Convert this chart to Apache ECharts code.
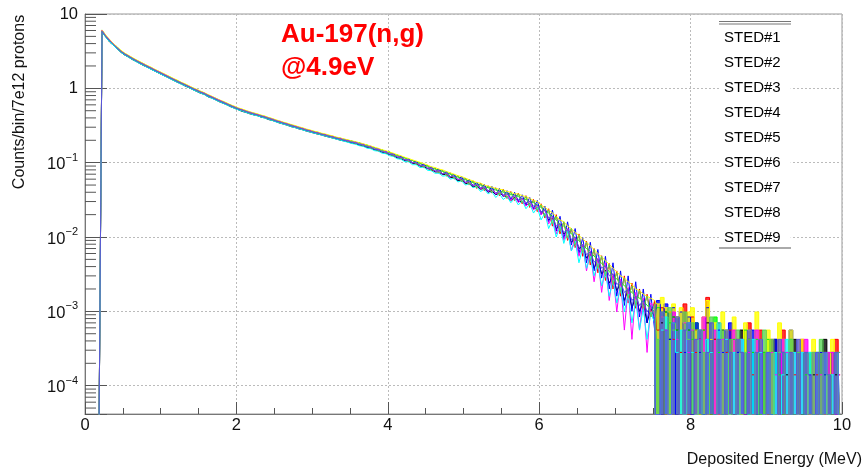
<!DOCTYPE html>
<html><head><meta charset="utf-8">
<script src="https://cdn.jsdelivr.net/npm/echarts@6/dist/echarts.min.js"></script>
<style>html,body{margin:0;padding:0;background:#fff}#c{width:865px;height:476px}</style>
</head><body><div id="c"></div>
<script>
// Deposited energy histogram, 200 bins of 0.05 MeV from 0 to 10 MeV
const binCount = 200;
const binWidthMeV = 0.05;
const binCenters = Array.from({length: binCount}, (_, i) => +((i + 0.5) * binWidthMeV).toFixed(3));
const tailStartBin = 150; // 7.5 MeV: sparse-count region drawn as a filled histogram

const seriesNames = ['STED#1','STED#2','STED#3','STED#4','STED#5','STED#6','STED#7','STED#8','STED#9'];
const xTicks = [0, 2, 4, 6, 8, 10];

const sted1 = [
0,0,0,0,5.7,4.9,4.2,3.8,3.4,3.05,
2.8,2.63,2.44,2.3,2.15,2.02,1.92,1.8,1.7,1.6,
1.51,1.43,1.35,1.27,1.2,1.14,1.07,1.02,0.96,0.91,
0.86,0.83,0.77,0.74,0.7,0.66,0.63,0.6,0.565,0.54,
0.515,0.49,0.475,0.455,0.44,0.43,0.41,0.4,0.38,0.37,
0.355,0.34,0.33,0.318,0.305,0.297,0.285,0.277,0.266,0.258,
0.25,0.242,0.236,0.227,0.221,0.214,0.208,0.2,0.196,0.19,
0.183,0.18,0.172,0.168,0.16,0.157,0.149,0.145,0.138,0.134,
0.128,0.124,0.116,0.114,0.106,0.105,0.098,0.097,0.09,0.089,
0.083,0.081,0.075,0.075,0.069,0.07,0.063,0.063,0.057,0.059,
0.052,0.054,0.047,0.049,0.044,0.045,0.04,0.042,0.037,0.039,
0.036,0.035,0.031,0.034,0.03,0.03,0.027,0.028,0.024,0.025,
0.022,0.02,0.017,0.018,0.013,0.014,0.011,0.012,0.0085,0.0095,
0.007,0.0075,0.0052,0.006,0.0038,0.005,0.0032,0.0036,0.0024,0.003,
0.0019,0.0024,0.0014,0.002,0.0011,0.0016,0.001,0.0013,7e-4,0.0011,
8.4e-4,0,7e-4,9.8e-4,4.2e-4,8.4e-4,5.6e-4,2.8e-4,7e-4,5.6e-4,
0,5.6e-4,4.2e-4,0,7e-4,2.8e-4,4.2e-4,0,5.6e-4,2.8e-4,
4.2e-4,0,2.8e-4,5.6e-4,0,4.2e-4,2.8e-4,0,4.2e-4,2.8e-4,
0,2.8e-4,4.2e-4,0,2.8e-4,1.4e-4,0,4.2e-4,2.8e-4,0,
2.8e-4,0,1.4e-4,2.8e-4,0,4.2e-4,0,2.8e-4,1.4e-4,0];

const sted2 = [
0,0,0,0,6.0,5.1,4.4,3.95,3.5,3.2,
2.92,2.7,2.55,2.35,2.24,2.08,1.99,1.85,1.77,1.64,
1.57,1.46,1.4,1.3,1.25,1.16,1.12,1.04,1.0,0.93,
0.9,0.84,0.81,0.75,0.73,0.67,0.66,0.61,0.59,0.55,
0.535,0.505,0.495,0.465,0.46,0.435,0.43,0.405,0.4,0.375,
0.37,0.348,0.344,0.324,0.32,0.301,0.298,0.281,0.279,0.262,
0.262,0.246,0.246,0.231,0.232,0.217,0.218,0.204,0.206,0.192,
0.195,0.18,0.184,0.168,0.172,0.156,0.16,0.144,0.148,0.133,
0.14,0.122,0.128,0.112,0.118,0.103,0.108,0.094,0.1,0.086,
0.092,0.078,0.085,0.072,0.079,0.066,0.073,0.06,0.067,0.055,
0.062,0.05,0.057,0.045,0.053,0.042,0.049,0.039,0.046,0.036,
0.044,0.033,0.041,0.031,0.039,0.028,0.036,0.025,0.032,0.022,
0.028,0.018,0.024,0.014,0.02,0.011,0.016,0.009,0.013,0.0072,
0.011,0.0055,0.0088,0.0042,0.007,0.0033,0.0056,0.0026,0.0044,0.002,
0.0035,0.0016,0.003,0.0013,0.0024,0.0011,0.002,9.8e-4,0.0017,8.4e-4,
1.4e-3,5.6e-4,1.12e-3,0,9.8e-4,4.2e-4,8.4e-4,2.8e-4,1.26e-3,0,
8.4e-4,2.8e-4,0,5.6e-4,1.54e-3,0,4.2e-4,7e-4,0,2.8e-4,
5.6e-4,0,4.2e-4,2.8e-4,0,7e-4,1.4e-4,0,5.6e-4,2.8e-4,
0,4.2e-4,2.8e-4,0,5.6e-4,0,2.8e-4,1.4e-4,0,4.2e-4,
0,2.8e-4,0,1.4e-4,2.8e-4,0,2.8e-4,0,4.2e-4,1.4e-4];

const sted3 = [
0,0,0,0,6.1,5.1,4.5,4.0,3.6,3.2,
2.95,2.76,2.57,2.41,2.26,2.14,2.0,1.9,1.78,1.69,
1.59,1.5,1.42,1.33,1.27,1.19,1.13,1.07,1.01,0.96,
0.91,0.87,0.815,0.775,0.735,0.695,0.66,0.63,0.595,0.565,
0.54,0.52,0.5,0.48,0.465,0.45,0.432,0.42,0.402,0.39,
0.372,0.36,0.346,0.335,0.322,0.312,0.3,0.291,0.28,0.272,
0.263,0.256,0.246,0.24,0.232,0.226,0.218,0.213,0.206,0.2,
0.196,0.188,0.185,0.176,0.173,0.164,0.16,0.152,0.149,0.14,
0.138,0.13,0.126,0.12,0.116,0.11,0.107,0.101,0.099,0.093,
0.09,0.086,0.082,0.08,0.076,0.074,0.07,0.068,0.064,0.062,
0.059,0.057,0.054,0.052,0.05,0.048,0.046,0.045,0.043,0.042,
0.04,0.039,0.037,0.037,0.035,0.033,0.032,0.03,0.029,0.027,
0.025,0.023,0.021,0.019,0.017,0.015,0.014,0.0125,0.011,0.0098,
0.009,0.0078,0.007,0.0064,0.0055,0.005,0.0044,0.004,0.0034,0.0031,
0.0027,0.0025,0.0022,0.002,0.0018,0.0016,0.0015,0.0014,0.0012,0.00112,
9.8e-4,1.12e-3,8.4e-4,9.8e-4,7e-4,8.4e-4,5.6e-4,0,7e-4,5.6e-4,
4.2e-4,7e-4,0,5.6e-4,4.2e-4,0,8.4e-4,2.8e-4,0,5.6e-4,
2.8e-4,4.2e-4,0,2.8e-4,5.6e-4,0,2.8e-4,4.2e-4,0,2.8e-4,
4.2e-4,0,2.8e-4,1.4e-4,0,2.8e-4,4.2e-4,0,2.8e-4,0,
1.4e-4,2.8e-4,0,2.8e-4,0,1.4e-4,2.8e-4,0,2.8e-4,0];

const sted4 = [
0,0,0,0,5.8,5.0,4.35,3.9,3.45,3.15,
2.88,2.71,2.5,2.37,2.2,2.1,1.96,1.87,1.74,1.66,
1.55,1.48,1.38,1.32,1.23,1.18,1.1,1.06,0.98,0.95,
0.88,0.86,0.79,0.77,0.71,0.69,0.64,0.62,0.58,0.56,
0.525,0.515,0.485,0.475,0.45,0.445,0.42,0.415,0.39,0.385,
0.36,0.356,0.336,0.332,0.312,0.309,0.291,0.289,0.271,0.27,
0.254,0.254,0.238,0.239,0.224,0.225,0.21,0.212,0.198,0.2,
0.186,0.19,0.175,0.178,0.163,0.166,0.151,0.154,0.139,0.143,
0.129,0.132,0.118,0.122,0.108,0.113,0.099,0.104,0.091,0.096,
0.083,0.088,0.076,0.082,0.07,0.076,0.064,0.07,0.058,0.065,
0.053,0.06,0.048,0.055,0.044,0.051,0.04,0.048,0.037,0.045,
0.035,0.042,0.032,0.04,0.03,0.037,0.027,0.034,0.024,0.031,
0.02,0.026,0.016,0.023,0.012,0.019,0.0095,0.016,0.0078,0.013,
0.006,0.0098,0.0045,0.0085,0.0035,0.0068,0.0028,0.0055,0.002,0.0045,
0.0016,0.0035,0.0012,0.003,0.001,0.0025,8.4e-4,0.002,7e-4,0.0017,
5.6e-4,1.4e-3,0,1.26e-3,4.2e-4,1.12e-3,0,9.8e-4,2.8e-4,8.4e-4,
0,7e-4,2.8e-4,0,1.12e-3,4.2e-4,0,5.6e-4,2.8e-4,0,
7e-4,0,2.8e-4,4.2e-4,0,2.8e-4,5.6e-4,0,2.8e-4,0,
2.8e-4,0,4.2e-4,0,2.8e-4,0,5.6e-4,2.8e-4,0,2.8e-4,
0,1.4e-4,2.8e-4,0,2.8e-4,1.4e-4,0,2.8e-4,0,2.8e-4];

const sted5 = [
0,0,0,0,6.1,5.2,4.55,4.0,3.6,3.25,
2.98,2.78,2.6,2.43,2.29,2.15,2.03,1.92,1.8,1.7,
1.61,1.52,1.43,1.35,1.28,1.2,1.15,1.08,1.02,0.97,
0.92,0.875,0.825,0.785,0.74,0.7,0.67,0.635,0.6,0.575,
0.545,0.527,0.505,0.485,0.468,0.455,0.437,0.424,0.406,0.393,
0.376,0.364,0.35,0.339,0.325,0.316,0.303,0.295,0.283,0.275,
0.265,0.259,0.249,0.243,0.235,0.229,0.22,0.215,0.208,0.203,
0.196,0.192,0.185,0.18,0.173,0.168,0.161,0.156,0.149,0.145,
0.139,0.134,0.128,0.124,0.118,0.114,0.109,0.105,0.101,0.097,
0.093,0.088,0.086,0.082,0.08,0.076,0.073,0.07,0.067,0.065,
0.062,0.059,0.057,0.054,0.053,0.05,0.048,0.047,0.045,0.044,
0.043,0.041,0.04,0.038,0.038,0.036,0.035,0.033,0.031,0.03,
0.027,0.025,0.023,0.021,0.019,0.017,0.016,0.014,0.013,0.0115,
0.0105,0.0094,0.0085,0.0076,0.0068,0.006,0.0054,0.0048,0.0043,0.0038,
0.0034,0.003,0.0028,0.0025,0.0023,0.002,0.0019,0.0017,0.0016,0.0015,
1.4e-3,1.26e-3,1.54e-3,1.12e-3,9.8e-4,1.26e-3,8.4e-4,1.12e-3,7e-4,9.8e-4,
1.12e-3,5.6e-4,0,8.4e-4,1.4e-3,4.2e-4,7e-4,0,9.8e-4,5.6e-4,
0,8.4e-4,4.2e-4,0,7e-4,5.6e-4,0,9.8e-4,4.2e-4,0,
5.6e-4,2.8e-4,0,7e-4,4.2e-4,0,5.6e-4,2.8e-4,0,4.2e-4,
2.8e-4,0,4.2e-4,2.8e-4,0,2.8e-4,0,4.2e-4,2.8e-4,0];

const sted6 = [
0,0,0,0,6.0,5.05,4.45,3.92,3.52,3.17,
2.91,2.73,2.54,2.38,2.24,2.11,1.99,1.88,1.77,1.67,
1.58,1.49,1.4,1.32,1.25,1.18,1.12,1.06,1.0,0.95,
0.9,0.86,0.81,0.77,0.73,0.69,0.66,0.62,0.59,0.56,
0.535,0.515,0.495,0.475,0.46,0.444,0.43,0.414,0.4,0.384,
0.369,0.356,0.344,0.331,0.319,0.308,0.298,0.288,0.278,0.269,
0.26,0.252,0.244,0.237,0.23,0.223,0.216,0.21,0.204,0.198,
0.192,0.187,0.18,0.175,0.168,0.163,0.156,0.151,0.144,0.14,
0.134,0.128,0.121,0.118,0.11,0.109,0.1,0.1,0.092,0.092,
0.085,0.084,0.077,0.078,0.071,0.072,0.065,0.066,0.059,0.061,
0.054,0.056,0.049,0.051,0.045,0.047,0.041,0.044,0.038,0.041,
0.036,0.038,0.031,0.036,0.029,0.033,0.026,0.03,0.023,0.027,
0.02,0.023,0.015,0.019,0.011,0.015,0.009,0.013,0.0065,0.01,
0.0055,0.008,0.0035,0.0065,0.0025,0.0052,0.0018,0.0045,0.0014,0.0032,
9.8e-4,0.0027,5.6e-4,0.0021,4.2e-4,0.0018,5.6e-4,0.0015,2.8e-4,0.0013,
1.12e-3,0,8.4e-4,5.6e-4,0,9.8e-4,4.2e-4,0,7e-4,2.8e-4,
5.6e-4,0,4.2e-4,8.4e-4,0,2.8e-4,5.6e-4,0,4.2e-4,0,
2.8e-4,5.6e-4,0,4.2e-4,0,2.8e-4,0,5.6e-4,2.8e-4,0,
0,2.8e-4,1.4e-4,0,4.2e-4,2.8e-4,0,2.8e-4,0,2.8e-4,
4.2e-4,0,2.8e-4,0,1.4e-4,0,2.8e-4,2.8e-4,0,1.4e-4];

const sted7 = [
0,0,0,0,5.7,4.85,4.25,3.78,3.4,3.05,
2.82,2.62,2.45,2.29,2.15,2.03,1.91,1.8,1.7,1.6,
1.51,1.43,1.35,1.27,1.2,1.13,1.08,1.02,0.96,0.91,
0.865,0.825,0.775,0.735,0.7,0.66,0.63,0.597,0.567,0.538,
0.514,0.495,0.475,0.456,0.441,0.427,0.412,0.398,0.383,0.369,
0.354,0.341,0.33,0.318,0.306,0.296,0.286,0.276,0.267,0.258,
0.25,0.243,0.235,0.228,0.221,0.214,0.206,0.201,0.194,0.188,
0.181,0.177,0.169,0.166,0.157,0.154,0.145,0.143,0.134,0.132,
0.124,0.121,0.113,0.111,0.103,0.103,0.094,0.094,0.086,0.087,
0.079,0.078,0.072,0.072,0.066,0.067,0.06,0.062,0.055,0.057,
0.05,0.052,0.046,0.048,0.041,0.044,0.038,0.041,0.034,0.038,
0.032,0.035,0.029,0.033,0.027,0.031,0.024,0.028,0.021,0.025,
0.017,0.021,0.013,0.017,0.01,0.014,0.0082,0.012,0.0065,0.0088,
0.0045,0.0072,0.0038,0.0055,0.003,0.0044,0.0022,0.0034,0.0016,0.0026,
0.0013,0.0021,9.8e-4,0.0017,7e-4,0.0014,5.6e-4,0.0011,4.2e-4,9.8e-4,
7e-4,0,5.6e-4,8.4e-4,0,7e-4,2.8e-4,5.6e-4,0,7e-4,
2.8e-4,0,5.6e-4,0,4.2e-4,2.8e-4,0,7e-4,0,4.2e-4,
0,2.8e-4,0,4.2e-4,2.8e-4,0,4.2e-4,0,2.8e-4,0,
2.8e-4,0,2.8e-4,0,1.4e-4,4.2e-4,0,2.8e-4,0,2.8e-4,
0,2.8e-4,0,2.8e-4,0,2.8e-4,0,1.4e-4,2.8e-4,0];

const sted8 = [
0,0,0,0,5.9,4.95,4.4,3.88,3.5,3.13,
2.9,2.69,2.53,2.35,2.23,2.08,1.98,1.85,1.76,1.64,
1.57,1.46,1.4,1.3,1.25,1.16,1.12,1.04,1.0,0.935,
0.895,0.845,0.805,0.755,0.725,0.675,0.655,0.61,0.59,0.55,
0.535,0.505,0.493,0.466,0.458,0.436,0.428,0.406,0.398,0.376,
0.368,0.348,0.343,0.324,0.319,0.302,0.297,0.282,0.277,0.263,
0.26,0.247,0.244,0.232,0.23,0.218,0.216,0.205,0.204,0.193,
0.193,0.182,0.182,0.17,0.17,0.158,0.158,0.146,0.146,0.135,
0.137,0.123,0.126,0.113,0.116,0.104,0.107,0.095,0.099,0.087,
0.091,0.079,0.084,0.073,0.078,0.067,0.072,0.062,0.066,0.056,
0.061,0.051,0.056,0.046,0.052,0.043,0.048,0.04,0.045,0.037,
0.043,0.034,0.04,0.032,0.038,0.029,0.035,0.026,0.031,0.023,
0.027,0.019,0.023,0.015,0.019,0.012,0.016,0.0098,0.013,0.0078,
0.0105,0.0062,0.0085,0.0048,0.0068,0.0038,0.0055,0.003,0.0043,0.0023,
0.0033,0.0018,0.0028,0.0015,0.0022,0.0012,0.0019,0.0011,0.0016,8.4e-4,
1.26e-3,4.2e-4,9.8e-4,0,1.12e-3,5.6e-4,8.4e-4,0,9.8e-4,4.2e-4,
7e-4,0,5.6e-4,2.8e-4,0,8.4e-4,0,4.2e-4,5.6e-4,0,
4.2e-4,0,5.6e-4,0,2.8e-4,4.2e-4,0,2.8e-4,0,5.6e-4,
0,4.2e-4,0,2.8e-4,2.8e-4,0,4.2e-4,0,2.8e-4,0,
2.8e-4,0,2.8e-4,0,4.2e-4,0,1.4e-4,0,2.8e-4,2.8e-4];

const sted9 = [
0,0,0,0,5.85,5.0,4.38,3.9,3.48,3.14,
2.89,2.7,2.51,2.36,2.21,2.09,1.96,1.86,1.74,1.65,
1.55,1.47,1.38,1.31,1.23,1.17,1.1,1.05,0.985,0.94,
0.885,0.85,0.795,0.76,0.715,0.68,0.645,0.615,0.58,0.555,
0.527,0.51,0.487,0.47,0.452,0.44,0.422,0.41,0.392,0.38,
0.362,0.352,0.337,0.328,0.313,0.305,0.292,0.285,0.272,0.266,
0.255,0.25,0.239,0.235,0.225,0.221,0.211,0.208,0.199,0.196,
0.187,0.185,0.176,0.173,0.164,0.161,0.152,0.149,0.14,0.138,
0.13,0.128,0.119,0.118,0.109,0.109,0.1,0.1,0.092,0.092,
0.084,0.084,0.077,0.078,0.071,0.072,0.065,0.066,0.06,0.061,
0.055,0.056,0.05,0.051,0.046,0.047,0.042,0.044,0.039,0.041,
0.037,0.038,0.034,0.036,0.032,0.033,0.029,0.03,0.026,0.027,
0.022,0.023,0.018,0.019,0.014,0.015,0.0115,0.0125,0.0092,0.01,
0.0072,0.0079,0.0058,0.0063,0.0046,0.005,0.0038,0.0041,0.003,0.0032,
0.0023,0.0025,0.0018,0.002,0.0014,0.0016,0.0012,0.0014,9.8e-4,0.0012,
8.4e-4,0,9.8e-4,5.6e-4,0,7e-4,8.4e-4,0,5.6e-4,7e-4,
0,4.2e-4,5.6e-4,0,2.8e-4,7e-4,0,4.2e-4,0,5.6e-4,
2.8e-4,0,4.2e-4,2.8e-4,0,5.6e-4,0,2.8e-4,4.2e-4,0,
2.8e-4,0,0,4.2e-4,2.8e-4,0,2.8e-4,0,4.2e-4,0,
2.8e-4,1.4e-4,0,2.8e-4,0,2.8e-4,1.4e-4,0,2.8e-4,0];

const allSeries = [sted1, sted2, sted3, sted4, sted5, sted6, sted7, sted8, sted9];
const seriesColors = ['#000000','#ff0000','#00ff00','#0000ff','#ffff00','#ff00ff','#00ffff','#59d454','#5954d9'];

const Y_MIN = 4.16e-5, Y_MAX = 10;
const EMPTY_BIN = 1e-6; // empty bins drop below the frame, as in ROOT log plots
const FONT = '"Liberation Sans", Arial, Helvetica, sans-serif';

// minor log ticks 2..9 x 10^n
const minorTickValues = [];
for (let n = -5; n <= 1; n++) for (let k = 2; k <= 9; k++) {
  const v = k * Math.pow(10, n);
  if (v > Y_MIN && v < Y_MAX) minorTickValues.push(v);
}

const chart = echarts.init(document.getElementById('c'), null, {renderer: 'canvas'});

const toPoints = (arr, from, to) => arr.slice(from, to).map((v, j) => [binCenters[from + j], v > 0 ? v : EMPTY_BIN]);

const mainSeries = allSeries.map((arr, k) => ({
  name: seriesNames[k], type: 'line', symbol: 'none', showSymbol: false,
  data: toPoints(arr, 0, tailStartBin + 1),
  lineStyle: {width: 1, color: seriesColors[k]}, itemStyle: {color: seriesColors[k]},
  clip: true, silent: true, animation: false, z: 2
}));
const tailSeries = allSeries.map((arr, k) => ({
  name: seriesNames[k], type: 'line', step: 'middle', symbol: 'none', showSymbol: false,
  data: toPoints(arr, tailStartBin, binCount),
  lineStyle: {width: 1, color: seriesColors[k]}, itemStyle: {color: seriesColors[k]},
  areaStyle: {color: seriesColors[k], opacity: 0.8, origin: 'start'},
  clip: true, silent: true, animation: false, z: 2
}));

const minorTickSeries = {
  type: 'custom', silent: true, animation: false, z: 5, clip: false,
  data: minorTickValues.map(v => [0, v]),
  renderItem: (params, api) => {
    const p = api.coord([0, api.value(1)]);
    return {type: 'line', shape: {x1: p[0], y1: p[1], x2: p[0] + 11, y2: p[1]},
            style: {stroke: '#555', lineWidth: 1}};
  }
};

function yLabel(v) {
  const l = Math.log10(v), e = Math.round(l);
  if (Math.abs(l - e) > 1e-6) return '';
  if (e === 0) return '1';
  if (e === 1) return '10';
  return '{b|10}{s|\u2212' + (-e) + '}';
}

chart.setOption({
  animation: false,
  backgroundColor: '#fff',
  grid: {left: 85, right: 23, top: 14, bottom: 62, show: true, borderColor: '#999', borderWidth: 1},
  xAxis: {
    type: 'value', min: xTicks[0], max: xTicks[xTicks.length - 1], interval: 2,
    axisLine: {onZero: false, lineStyle: {color: '#777', width: 1}},
    axisTick: {inside: true, length: 12, lineStyle: {color: '#555'}},
    minorTick: {show: true, splitNumber: 4, length: 6, lineStyle: {color: '#555'}},
    axisLabel: {fontFamily: FONT, fontSize: 16.5, color: '#111', margin: 3},
    splitLine: {show: true, lineStyle: {color: '#bbb', type: [2, 2], width: 1}}
  },
  yAxis: {
    type: 'log', logBase: 10, min: Y_MIN, max: Y_MAX,
    axisLine: {show: true, lineStyle: {color: '#777', width: 1}},
    axisTick: {inside: true, length: 22, lineStyle: {color: '#555'}},
    axisLabel: {fontFamily: FONT, fontSize: 16.5, color: '#111', margin: 7, formatter: yLabel,
      rich: {
        b: {fontFamily: FONT, fontSize: 16.5, color: '#111', padding: [4, 0, 0, 0], verticalAlign: 'bottom'},
        s: {fontFamily: FONT, fontSize: 11, color: '#111', verticalAlign: 'top'}
      }},
    splitLine: {show: true, lineStyle: {color: '#bbb', type: [2, 2], width: 1}}
  },
  legend: {
    data: seriesNames, orient: 'vertical', left: 719, top: 22,
    itemWidth: 0, itemHeight: 0, itemGap: 10, icon: 'rect',
    padding: [8, 10, 4, 0], backgroundColor: '#fff', selectedMode: false,
    textStyle: {fontFamily: FONT, fontSize: 15, color: '#000', lineHeight: 15}
  },
  graphic: [
    {type: 'text', x: 281, y: 35, z: 100, style: {text: 'Au-197(n,g)', font: 'bold 26px ' + FONT, fill: '#ff0000', align: 'left', verticalAlign: 'middle'}},
    {type: 'text', x: 281, y: 68, z: 100, style: {text: '@4.9eV', font: 'bold 26px ' + FONT, fill: '#ff0000', align: 'left', verticalAlign: 'middle'}},
    {type: 'text', x: 862, y: 460, z: 100, style: {text: 'Deposited Energy (MeV)', font: '16px ' + FONT, fill: '#111', align: 'right', verticalAlign: 'middle'}},
    {type: 'text', x: 20, y: 102, rotation: Math.PI / 2, z: 100, style: {text: 'Counts/bin/7e12 protons', font: '16px ' + FONT, fill: '#111', align: 'center', verticalAlign: 'middle'}},
    {type: 'line', z: 100, shape: {x1: 719, y1: 21.5, x2: 791, y2: 21.5}, style: {stroke: '#777', lineWidth: 1}},
    {type: 'line', z: 100, shape: {x1: 719, y1: 24, x2: 791, y2: 24}, style: {stroke: '#777', lineWidth: 1}},
    {type: 'line', z: 100, shape: {x1: 719, y1: 248, x2: 791, y2: 248}, style: {stroke: '#aaa', lineWidth: 2}}
  ],
  series: mainSeries.concat(tailSeries, [minorTickSeries])
});
</script></body></html>
